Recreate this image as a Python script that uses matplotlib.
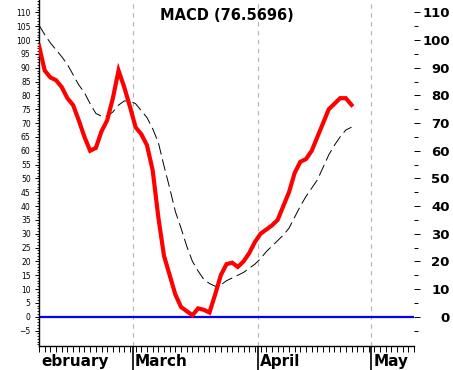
import matplotlib
matplotlib.use("Agg")
import matplotlib.pyplot as plt
import matplotlib.transforms as mtransforms
import numpy as np

# trading-day index 0 = first day shown (mid February)
macd = [98, 89, 86.5, 85.5, 83, 79, 76.5, 71, 65, 60, 61, 67, 71, 79, 89, 83,
        76, 68.5, 66, 62, 53, 36, 22, 15, 8, 3.5, 2, 0.5, 3, 2.5, 1.5, 8,
        15, 19, 19.5, 18, 20, 23, 27, 30, 31.5, 33, 35, 40, 45, 52, 56, 57,
        60, 65, 70, 75, 77, 79, 79, 76.57]
signal = [105.4, 102, 99, 96.5, 94, 91.2, 87.5, 83.8, 81, 77, 73.5, 72.5,
          72.5, 74, 76.5, 78, 78, 77, 74.5, 72, 68, 63, 54.5, 46.5, 38, 32,
          25.5, 20, 16.5, 13.5, 12, 11, 11.5, 13, 14, 15, 16, 17.5, 19, 21,
          23.5, 25.5, 27.5, 29.5, 32, 36, 40, 43.5, 46.5, 49.5, 54, 58.5, 62,
          65, 67.5, 68.5]
month_names = ["ebruary", "March", "April", "May"]
month_starts = [16.5, 38.5, 58.5]   # boundaries between trading days

fig = plt.figure(figsize=(4.53, 3.70), dpi=100)
ax = fig.add_axes([39 / 453, 24 / 370, 375 / 453, 346 / 370])
days = np.arange(len(macd))

ax.set_xlim(0, 66)
ax.set_ylim(-10.6, 114.5)

for m in month_starts:
    ax.axvline(m, color="#b4b4b4", lw=0.8, ls=(0, (4, 4)), zorder=1)
ax.axhline(0, color="#0000ff", lw=1.6, zorder=2)
ax.plot(days, signal, color="black", lw=0.7, dashes=(12, 5), zorder=3)
ax.plot(days, macd, color="#ff0000", lw=3.0, solid_joinstyle="miter", zorder=4)

for s in ["top", "right"]:
    ax.spines[s].set_visible(False)
ax.spines["left"].set_linewidth(1.0)
ax.spines["bottom"].set_linewidth(1.0)

# left axis: small labels every 5, dense minor ticks
ax.set_yticks(np.arange(-5, 111, 5))
ax.set_yticks(np.arange(-10, 115, 1), minor=True)
ax.tick_params(axis="y", which="major", length=3, width=0.7, labelsize=5.5, pad=3)
ax.tick_params(axis="y", which="minor", length=1.8, width=0.6)

# bottom axis: day ticks, long ticks at month boundaries
ax.set_xticks(month_starts)
ax.set_xticklabels([])
ax.set_xticks(np.arange(0, 67, 1), minor=True)
ax.tick_params(axis="x", which="major", length=18, width=1.2, direction="out")
ax.tick_params(axis="x", which="minor", length=4.5, width=0.7, direction="out")

# right axis
ax2 = ax.twinx()
ax2.set_ylim(ax.get_ylim())
for s in ["top", "right", "left", "bottom"]:
    ax2.spines[s].set_visible(False)
ax2.set_yticks(np.arange(0, 111, 10))
ax2.set_yticks(np.arange(-5, 106, 10), minor=True)
ax2.tick_params(axis="y", which="major", length=4.3, width=0.7, pad=21.5, labelsize=9.5)
ax2.tick_params(axis="y", which="minor", length=2.9, width=0.7)
for lab in ax2.get_yticklabels():
    lab.set_fontweight("bold")
    lab.set_horizontalalignment("right")

trans = mtransforms.blended_transform_factory(ax.transData, fig.transFigure)
label_x = [0.35] + [m + 0.35 for m in month_starts]
for x, name in zip(label_x, month_names):
    fig.text(x, 1 - 366 / 370, name, transform=trans, fontsize=11,
             fontweight="bold", ha="left", va="baseline")

fig.text(0.5 * (39 + 414) / 453, 1 - 15 / 370, "MACD (%.4f)" % 76.5696,
         fontsize=10.5, fontweight="bold", ha="center", va="center")

fig.savefig("out.png", dpi=100)
